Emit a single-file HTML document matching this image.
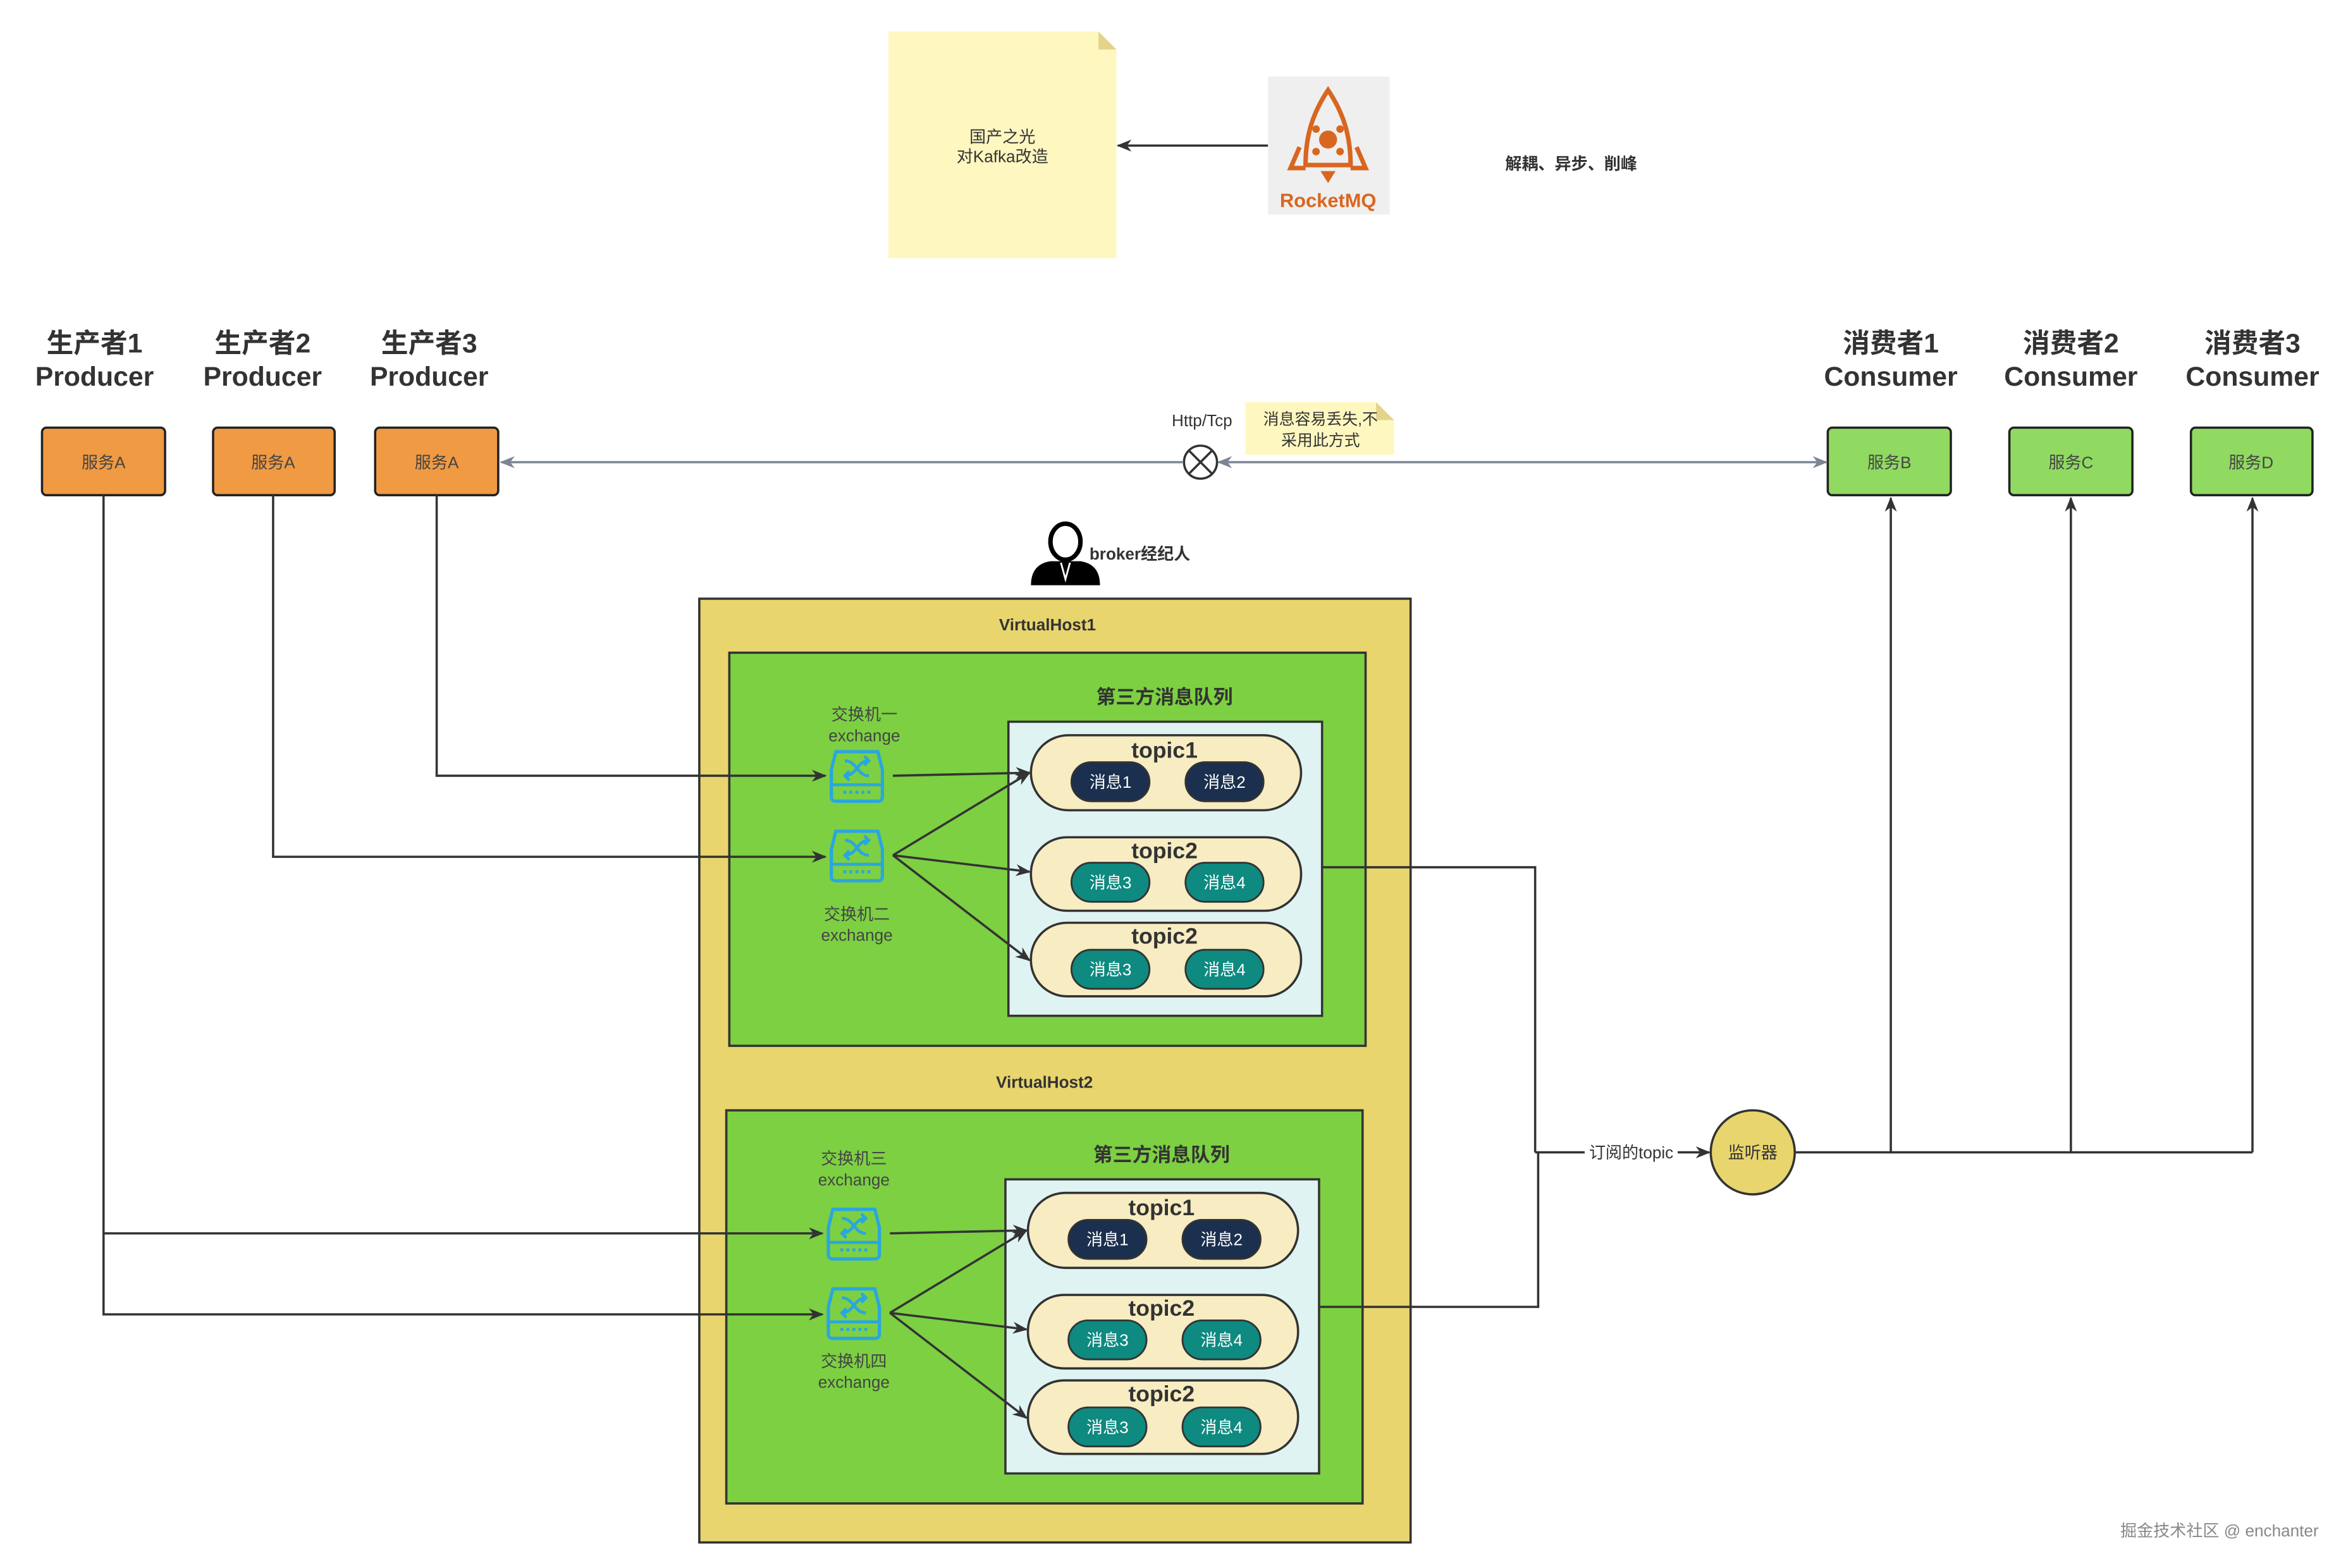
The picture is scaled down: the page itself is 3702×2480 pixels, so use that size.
<!DOCTYPE html>
<html><head><meta charset="utf-8">
<style>
html,body{margin:0;padding:0;background:#fff;}
svg{display:block;}
text{font-family:"Liberation Sans","Noto Sans CJK SC",sans-serif;}
</style></head>
<body>
<svg width="3702" height="2480" viewBox="0 0 1560 1045" xmlns="http://www.w3.org/2000/svg">
<defs>
<marker id="ah" markerWidth="10" markerHeight="10" refX="9" refY="5" orient="auto" markerUnits="userSpaceOnUse"><path d="M0,1 L10,5 L0,9 L3,5 Z" fill="#333"/></marker>
<marker id="ahg" markerWidth="10" markerHeight="10" refX="9" refY="5" orient="auto" markerUnits="userSpaceOnUse"><path d="M0,1 L10,5 L0,9 L3,5 Z" fill="#7b8594"/></marker>
<marker id="ahgs" markerWidth="10" markerHeight="10" refX="1" refY="5" orient="auto" markerUnits="userSpaceOnUse"><path d="M10,1 L0,5 L10,9 L7,5 Z" fill="#7b8594"/></marker>
<g id="ex">
<path d="M-14,-16 L14,-16 L17,-4 L17,14 Q17,17 14,17 L-14,17 Q-17,17 -17,14 L-17,-4 Z" fill="none" stroke="#2aa6df" stroke-width="2.2"/>
<line x1="-17" y1="6" x2="17" y2="6" stroke="#2aa6df" stroke-width="2"/>
<path d="M-8,-10 C0,-10 0,0 8,0 M-8,0 C0,0 0,-10 8,-10 M5,-13 L8,-10 L5,-7 M-5,-3 L-8,0 L-5,3" fill="none" stroke="#2aa6df" stroke-width="2"/>
<path d="M-9,11 L9,11" stroke="#2aa6df" stroke-width="2" stroke-dasharray="2,2"/>
</g>
</defs>

<!-- top note -->
<path d="M592,21 L732,21 L744,33 L744,172 L592,172 Z" fill="#fff7c0"/>
<path d="M732,21 L744,33 L732,33 Z" fill="#e3d48a"/>
<text x="668" y="95" font-size="11" text-anchor="middle" fill="#333">国产之光</text>
<text x="668" y="108" font-size="11" text-anchor="middle" fill="#333">对Kafka改造</text>
<line x1="845" y1="97" x2="745" y2="97" stroke="#333" stroke-width="1.5" marker-end="url(#ah)"/>

<!-- RocketMQ -->
<rect x="845" y="51" width="81" height="92" fill="#efefef"/>
<g fill="none" stroke="#d9661f" stroke-width="3">
<path d="M885,60 C875,75 870,90 870,110 L900,110 C900,90 895,75 885,60 Z"/>
<path d="M866,98 L860,112 L870,112 M904,98 L910,112 L900,112"/>
</g>
<circle cx="885" cy="93" r="6" fill="#d9661f"/>
<circle cx="877" cy="86" r="2.5" fill="#d9661f"/><circle cx="893" cy="86" r="2.5" fill="#d9661f"/>
<circle cx="877" cy="101" r="2.5" fill="#d9661f"/><circle cx="893" cy="101" r="2.5" fill="#d9661f"/>
<path d="M880,114 L890,114 L885,122 Z" fill="#d9661f"/>
<text x="885" y="138" font-size="13" font-weight="bold" text-anchor="middle" fill="#d9661f">RocketMQ</text>

<text x="1047" y="113" font-size="11" font-weight="bold" text-anchor="middle" fill="#333">解耦、异步、削峰</text>

<!-- producers -->
<g font-size="18" font-weight="bold" fill="#333" text-anchor="middle">
<text x="63" y="235">生产者1</text><text x="63" y="257">Producer</text>
<text x="175" y="235">生产者2</text><text x="175" y="257">Producer</text>
<text x="286" y="235">生产者3</text><text x="286" y="257">Producer</text>
<text x="1260" y="235">消费者1</text><text x="1260" y="257">Consumer</text>
<text x="1380" y="235">消费者2</text><text x="1380" y="257">Consumer</text>
<text x="1501" y="235">消费者3</text><text x="1501" y="257">Consumer</text>
</g>
<g stroke="#222" stroke-width="1.5">
<rect x="28" y="285" width="82" height="45" rx="3" fill="#f09a43"/>
<rect x="142" y="285" width="81" height="45" rx="3" fill="#f09a43"/>
<rect x="250" y="285" width="82" height="45" rx="3" fill="#f09a43"/>
<rect x="1218" y="285" width="82" height="45" rx="3" fill="#90da62"/>
<rect x="1339" y="285" width="82" height="45" rx="3" fill="#90da62"/>
<rect x="1460" y="285" width="81" height="45" rx="3" fill="#90da62"/>
</g>
<g font-size="11" fill="#444" text-anchor="middle">
<text x="69" y="312">服务A</text><text x="182" y="312">服务A</text><text x="291" y="312">服务A</text>
<text x="1259" y="312">服务B</text><text x="1380" y="312">服务C</text><text x="1500" y="312">服务D</text>
</g>

<!-- http line -->
<line x1="334" y1="308" x2="788" y2="308" stroke="#7b8594" stroke-width="1.5" marker-start="url(#ahgs)"/>
<line x1="812" y1="308" x2="1217" y2="308" stroke="#7b8594" stroke-width="1.5" marker-end="url(#ahg)" marker-start="url(#ahgs)"/>
<circle cx="800" cy="308" r="11" fill="#fff" stroke="#333" stroke-width="1.5"/>
<path d="M792,300 L808,316 M808,300 L792,316" stroke="#333" stroke-width="1.5"/>
<text x="801" y="284" font-size="11" text-anchor="middle" fill="#333">Http/Tcp</text>
<path d="M830,268 L917,268 L929,280 L929,303 L830,303 Z" fill="#fff7c0"/>
<path d="M917,268 L929,280 L917,280 Z" fill="#e3d48a"/>
<text x="880" y="283" font-size="10.5" text-anchor="middle" fill="#333">消息容易丢失,不</text>
<text x="880" y="297" font-size="10.5" text-anchor="middle" fill="#333">采用此方式</text>

<!-- broker -->
<ellipse cx="710" cy="361" rx="10" ry="12" fill="#fff" stroke="#000" stroke-width="3"/>
<path d="M687,390 Q687,376 700,374 L720,374 Q733,376 733,390 Z" fill="#000"/>
<path d="M707,375 L710,386 L713,375" stroke="#fff" stroke-width="1.2" fill="none"/>
<text x="726" y="373" font-size="11" font-weight="bold" fill="#333">broker经纪人</text>

<!-- virtual host -->
<rect x="466" y="399" width="474" height="629" fill="#e8d56e" stroke="#333" stroke-width="1.5"/>
<text x="698" y="420" font-size="11" font-weight="bold" text-anchor="middle" fill="#333">VirtualHost1</text>
<text x="696" y="725" font-size="11" font-weight="bold" text-anchor="middle" fill="#333">VirtualHost2</text>

<g id="vh">
<rect x="486" y="435" width="424" height="262" fill="#7cd042" stroke="#333" stroke-width="1.5"/>
<text x="776" y="469" font-size="13" font-weight="bold" text-anchor="middle" fill="#333">第三方消息队列</text>
<rect x="672" y="481" width="209" height="196" fill="#dff3f3" stroke="#333" stroke-width="1.5"/>
<g stroke="#333" stroke-width="1.5" fill="#f7ecc2">
<rect x="687" y="490" width="180" height="50" rx="25"/>
<rect x="687" y="558" width="180" height="49" rx="24"/>
<rect x="687" y="615" width="180" height="49" rx="24"/>
</g>
<g font-size="15" font-weight="bold" text-anchor="middle" fill="#333">
<text x="776" y="505">topic1</text><text x="776" y="572">topic2</text><text x="776" y="629">topic2</text>
</g>
<g stroke="#333" stroke-width="1.2">
<rect x="714" y="508" width="52" height="26" rx="13" fill="#1b2f4e"/>
<rect x="790" y="508" width="52" height="26" rx="13" fill="#1b2f4e"/>
<rect x="714" y="575" width="52" height="26" rx="13" fill="#0e8a80"/>
<rect x="790" y="575" width="52" height="26" rx="13" fill="#0e8a80"/>
<rect x="714" y="633" width="52" height="26" rx="13" fill="#0e8a80"/>
<rect x="790" y="633" width="52" height="26" rx="13" fill="#0e8a80"/>
</g>
<g font-size="11" fill="#fff" text-anchor="middle">
<text x="740" y="525">消息1</text><text x="816" y="525">消息2</text>
<text x="740" y="592">消息3</text><text x="816" y="592">消息4</text>
<text x="740" y="650">消息3</text><text x="816" y="650">消息4</text>
</g>
<use href="#ex" x="571" y="517"/>
<use href="#ex" x="571" y="570"/>
<g stroke="#333" stroke-width="1.5" marker-end="url(#ah)">
<line x1="595" y1="517" x2="686" y2="515"/>
<line x1="595" y1="570" x2="686" y2="515"/>
<line x1="595" y1="570" x2="686" y2="581"/>
<line x1="595" y1="570" x2="686" y2="640"/>
</g>
</g>
<use href="#vh" x="-2" y="305"/>
<g font-size="11" fill="#444" text-anchor="middle">
<text x="576" y="480">交换机一</text><text x="576" y="494">exchange</text>
<text x="571" y="613">交换机二</text><text x="571" y="627">exchange</text>
<text x="569" y="776">交换机三</text><text x="569" y="790">exchange</text>
<text x="569" y="911">交换机四</text><text x="569" y="925">exchange</text>
</g>

<!-- producer lines -->
<g fill="none" stroke="#333" stroke-width="1.5" marker-end="url(#ah)">
<path d="M291,330 L291,517 L550,517"/>
<path d="M182,330 L182,571 L550,571"/>
<path d="M69,330 L69,876 L548,876"/>
<path d="M69,822 L548,822"/>
</g>

<!-- to listener -->
<g fill="none" stroke="#333" stroke-width="1.5">
<path d="M881,578 L1023,578 L1023,768"/>
<path d="M879,871 L1025,871 L1025,768"/>
<path d="M1023,768 L1056,768"/>
<path d="M1118,768 L1139,768" marker-end="url(#ah)"/>
<path d="M1196,768 L1501,768"/>
<path d="M1260,768 L1260,332" marker-end="url(#ah)"/>
<path d="M1380,768 L1380,332" marker-end="url(#ah)"/>
<path d="M1501,768 L1501,332" marker-end="url(#ah)"/>
</g>
<text x="1087" y="772" font-size="11" text-anchor="middle" fill="#333">订阅的topic</text>
<circle cx="1168" cy="768" r="28" fill="#e8d56e" stroke="#333" stroke-width="1.5"/>
<text x="1168" y="772" font-size="11" text-anchor="middle" fill="#333">监听器</text>

<text x="1479" y="1024" font-size="11" text-anchor="middle" fill="#888">掘金技术社区 @ enchanter</text>
</svg>
</body></html>
